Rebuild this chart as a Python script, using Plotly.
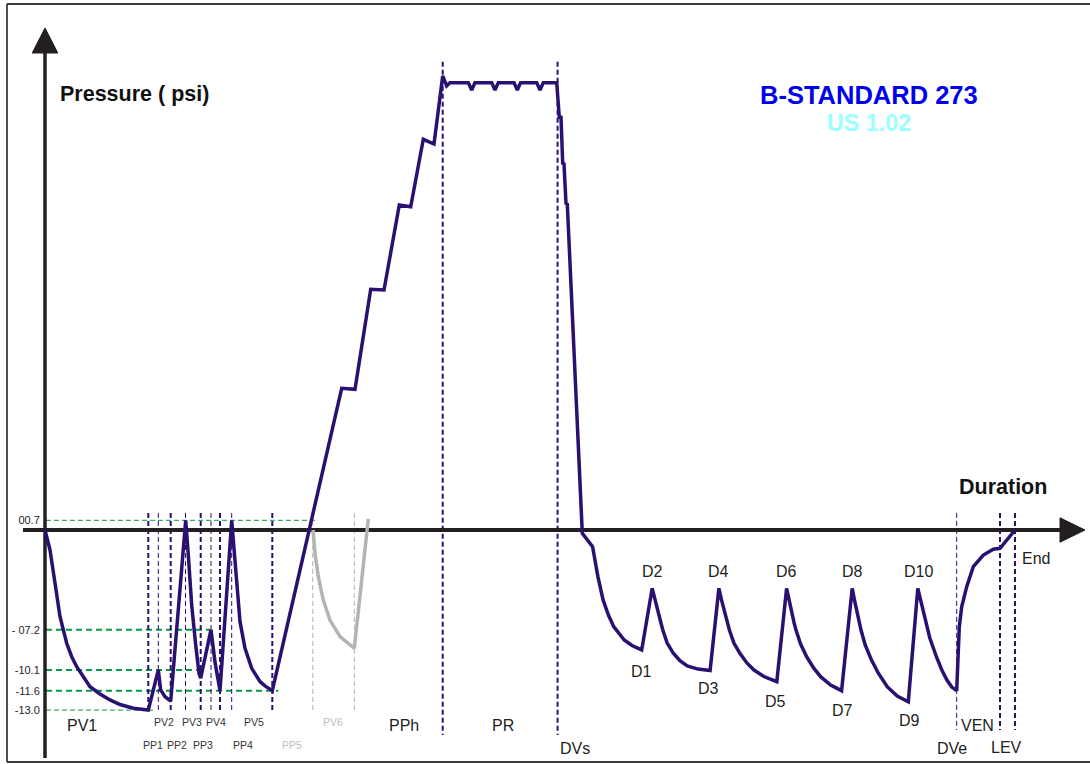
import plotly.graph_objects as go

# ---------------- data (time in s, pressure in psi) ----------------
# PV1: initial vacuum
t_pv1 = [0, 5, 10, 15, 21.7, 26.7, 31.7, 38.3, 45, 55, 65, 75, 88.3, 103.3]
p_pv1 = [0, -1.44, -3.83, -6.26, -8.18, -9.15, -9.87, -10.59, -11.31, -11.84, -12.27, -12.60, -12.87, -13.0]

# PP1..PV5: pulse phase
t_pulse = [113.3, 115.7, 120, 125.7, 140.7, 143.3, 146.7, 150.7, 154, 155.7,
           166, 170, 174.3, 175, 186.7, 189.3, 191.7, 195, 200, 206.7, 215, 220, 227.3]
p_pulse = [-10.1, -11.55, -12.04, -12.35, 0.7, -1.81, -5.42, -8.30, -10.35, -10.7,
           -7.2, -9.54, -11.43, -11.6, 0.7, -1.81, -4.21, -6.62, -8.54, -9.99, -10.95, -11.26, -11.6]

# PPh: heating ramp in steps
t_ramp = [296.7, 310, 325.7, 339, 354.3, 365.7, 378.3, 389, 397.7, 401.7, 405]
p_ramp = [10.23, 10.16, 17.38, 17.33, 23.47, 23.34, 28.21, 27.87, 32.78, 32.06, 32.3]

# PR: holding plateau
t_hold = [423.3, 426.7, 430, 446.7, 450, 453.3, 469, 472.3, 475.6, 491.7, 495, 498.3, 511.7]
p_hold = [32.3, 31.77, 32.3, 32.3, 31.77, 32.3, 32.3, 31.77, 32.3, 32.3, 31.77, 32.3, 32.3]

# DVs: release
t_release = [514.3, 516, 517.7, 519, 521, 522.3, 537.3]
p_release = [29.8, 29.8, 26.48, 26.43, 23.59, 23.54, -0.24]

# D1..D10: drying pulses
t_dry = [547.6, 550, 552.9, 558.1, 563.4, 568.7, 579.2, 587, 596.7,
         607.2, 609.8, 612.5, 615.2, 617.8, 622.2, 628.3, 635.2, 642.3, 653, 665.1,
         673.9, 676.5, 679.2, 681.9, 684.4, 688.9, 694.9, 701.9, 709, 718.9, 731.8,
         741.6, 744.1, 746.6, 749.1, 751, 755.6, 761.6, 768.6, 775.6, 785.6, 796.6,
         807.2, 809.7, 812.2, 816, 820.2, 826.5, 833.2, 842.2, 852.2, 863.3,
         872.8, 875.3, 877.8, 880.8, 884.8, 891.4, 896.8, 901.9, 906.8, 911.7]
p_dry = [-1.21, -2.17, -3.37, -5.05, -6.14, -6.98, -7.94, -8.34, -8.66,
         -4.21, -5.02, -5.78, -6.50, -7.22, -8.16, -8.90, -9.46, -9.82, -10.04, -10.14,
         -4.21, -5.05, -5.85, -6.57, -7.22, -8.16, -8.90, -9.60, -10.11, -10.58, -10.95,
         -4.21, -5.13, -5.92, -6.71, -7.22, -8.23, -9.15, -9.96, -10.59, -11.19, -11.60,
         -4.21, -5.13, -5.99, -7.22, -8.30, -9.39, -10.32, -11.31, -11.99, -12.40,
         -4.21, -4.98, -5.78, -6.74, -7.80, -9.15, -10.11, -10.83, -11.34, -11.60]

# VEN / LEV: venting
t_vent = [912.7, 914.3, 916.7, 921.7, 928.3, 938.3, 948.3, 955, 970]
p_vent = [-9.39, -6.98, -5.54, -4.09, -2.65, -1.81, -1.39, -1.32, 0]

# PV6 (optional phase, grey)
t_pv6 = [268, 270, 273.3, 278.3, 285, 295, 309.3, 323.3]
p_pv6 = [0, -1.68, -3.37, -5.05, -6.50, -7.70, -8.54, 0.8]

# pressure levels on the axis
level_vals = [0.7, -7.2, -10.1, -11.6, -13.0]
level_text = ["00.7", "- 07.2", "-10.1", "-11.6", "-13.0"]
level_end = [271.7, 165, 156, 233.3, 108]

# phase boundary times
pp_times = [103.3, 125.7, 155.7, 175, 227.3]
pv_times = [113.3, 140.5, 166, 186.7]
pv6_times = [267.7, 309.3]
main_times = [397.7, 512.6]
end_times_thin = [911.7]
end_times_thick = [955, 970]

t_main = t_pv1 + t_pulse + t_ramp + t_hold + t_release + t_dry + t_vent
p_main = p_pv1 + p_pulse + p_ramp + p_hold + p_release + p_dry + p_vent

# ---------------- styles ----------------
PURPLE = "#2a1070"
DARK = "#231f20"
GREEN = "#079a44"
FONT = "Liberation Sans, Arial, sans-serif"

fig = go.Figure()
fig.add_trace(go.Scatter(x=t_pv6, y=p_pv6, mode="lines",
                         line=dict(color="#b4b4b4", width=3.5), hoverinfo="skip"))
fig.add_trace(go.Scatter(x=t_main, y=p_main, mode="lines",
                         line=dict(color=PURPLE, width=3.5), hoverinfo="skip"))

shapes = []
# green level lines
for v, e in zip(level_vals, level_end):
    thin = v in (0.7, -13.0)
    shapes.append(dict(type="line", xref="x", yref="y", x0=1, x1=e, y0=v, y1=v,
                       line=dict(color=GREEN, width=1 if thin else 2,
                                 dash="5px,3px" if thin else "6px,4px"), layer="below"))
# vertical phase lines
for t in pp_times:
    shapes.append(dict(type="line", xref="x", yref="y", x0=t, x1=t, y0=1.23, y1=-13.2,
                       line=dict(color=PURPLE, width=2, dash="5px,3px"), layer="below"))
for t in pv_times:
    shapes.append(dict(type="line", xref="x", yref="y", x0=t, x1=t, y0=1.23, y1=-13.2,
                       line=dict(color=PURPLE, width=1, dash="5px,3px"), layer="below"))
for t in pv6_times:
    shapes.append(dict(type="line", xref="x", yref="y", x0=t, x1=t, y0=1.23, y1=-13.2,
                       line=dict(color="#b4b4b4", width=1, dash="5px,3px"), layer="below"))
for t in main_times:
    shapes.append(dict(type="line", xref="x", yref="y", x0=t, x1=t, y0=33.8, y1=-14.8,
                       line=dict(color=PURPLE, width=2, dash="5px,3px"), layer="below"))
for t in end_times_thin:
    shapes.append(dict(type="line", xref="x", yref="y", x0=t, x1=t, y0=1.23, y1=-14.44,
                       line=dict(color=PURPLE, width=1, dash="5px,3px"), layer="below"))
for t in end_times_thick:
    shapes.append(dict(type="line", xref="x", yref="y", x0=t, x1=t, y0=1.23, y1=-14.44,
                       line=dict(color=PURPLE, width=2, dash="5px,3px"), layer="below"))

# axes with arrows
shapes.append(dict(type="line", xref="x", yref="y", x0=0, x1=0, y0=-16.46, y1=34.6,
                   line=dict(color=DARK, width=3.5), layer="below"))
shapes.append(dict(type="path", xref="x", yref="y",
                   path="M -12.8,34.44 L 0,36.25 L 12.8,34.44 Z",
                   fillcolor=DARK, line=dict(color=DARK, width=1)))
shapes.append(dict(type="line", xref="x", yref="y", x0=-22, x1=1016, y0=0, y1=0,
                   line=dict(color=DARK, width=4), layer="below"))
shapes.append(dict(type="path", xref="x", yref="y",
                   path="M 1015,0.88 L 1040,0 L 1015,-0.88 Z",
                   fillcolor=DARK, line=dict(color=DARK, width=1)))
# frame
for (x0, y0, x1, y1) in [(0.00642, 0.99476, 1.0, 0.99476),
                         (0.00642, 0.00262, 0.00642, 0.99476),
                         (0.00642, 0.00262, 1.0, 0.00262)]:
    shapes.append(dict(type="line", xref="paper", yref="paper", x0=x0, y0=y0, x1=x1, y1=y1,
                       line=dict(color="#3a3a3a", width=1.8)))

ann = []
def label(text, x, y, size=16, color=DARK, bold=False, xanchor="center"):
    ann.append(dict(text=f"<b>{text}</b>" if bold else text, x=x, y=y, xref="x", yref="y",
                    showarrow=False, xanchor=xanchor, yanchor="middle",
                    font=dict(size=size, color=color, family=FONT)))

big_labels = [("PV1", 36.7, -14.13), ("PPh", 359, -14.15), ("PR", 458.3, -14.15),
              ("DVs", 530, -15.76), ("D1", 596.7, -10.23), ("D2", 607.2, -3.01),
              ("D3", 663.4, -11.43), ("D4", 673.9, -3.01), ("D5", 730, -12.40),
              ("D6", 741.6, -3.01), ("D7", 797.3, -13.0), ("D8", 807.2, -3.01),
              ("D9", 864, -13.72), ("D10", 873.8, -3.01), ("VEN", 932.7, -14.12),
              ("DVe", 907, -15.76), ("LEV", 961.7, -15.69), ("End", 991, -2.04)]
for txt, x, y in big_labels:
    label(txt, x, y)

small_labels = [("PV2", 119, -13.84), ("PV3", 147.3, -13.84), ("PV4", 171, -13.84),
                ("PV5", 209, -13.84), ("PP1", 108.3, -15.52), ("PP2", 132.3, -15.52),
                ("PP3", 158.3, -15.52), ("PP4", 198.3, -15.52)]
for txt, x, y in small_labels:
    label(txt, x, y, size=10.5, color="#333333")
label("PV6", 287.7, -13.84, size=10.5, color="#bdbdbd")
label("PP5", 246.7, -15.52, size=10.5, color="#bdbdbd")

label("Pressure ( psi)", 12.5, 31.48, size=21.5, bold=True, xanchor="left", color="#111111")
label("Duration", 957.7, 3.13, size=21.5, bold=True, color="#111111")
label("B-STANDARD 273", 824, 31.41, size=25.5, bold=True, color="#0000ee")
label("US 1.02", 823.5, 29.41, size=23.3, bold=True, color="#99ffff")

fig.update_layout(
    width=1090, height=764, margin=dict(l=0, r=0, t=0, b=0),
    paper_bgcolor="white", plot_bgcolor="white", showlegend=False,
    shapes=shapes, annotations=ann,
    xaxis=dict(range=[-45, 1045], visible=False, fixedrange=True),
    yaxis=dict(range=[-16.895, 38.267], showgrid=False, zeroline=False, showline=False,
               tickvals=level_vals, ticktext=level_text, anchor="free", position=45 / 1090,
               ticks="outside", ticklen=3, tickcolor="rgba(0,0,0,0)",
               tickfont=dict(size=11, color=DARK, family=FONT), fixedrange=True),
)

fig.write_html("out.html", config={"displayModeBar": False},
               post_script="document.body.style.margin='0';document.body.style.overflow='hidden';")
